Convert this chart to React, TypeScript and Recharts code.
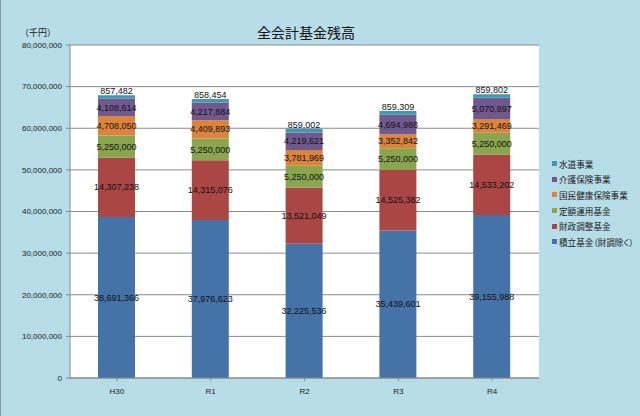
import React from 'react';
import {
  BarChart,
  Bar,
  XAxis,
  YAxis,
  CartesianGrid,
  Legend,
  LabelList
} from 'recharts';

// 年度
const categories = ['H30', 'R1', 'R2', 'R3', 'R4'];

// 系列（下から順）
const seriesNames = [
  '積立基金（財調除く）',
  '財政調整基金',
  '定額運用基金',
  '国民健康保険事業',
  '介護保険事業',
  '水道事業'
];
const seriesColors = ['#4572a7', '#aa4643', '#89a54e', '#db843d', '#71588f', '#4198af'];

const tsumitate = [38691366, 37976623, 32225536, 35439601, 39155988];
const zaisei = [14307238, 14315076, 13521049, 14525382, 14533202];
const teigaku = [5250000, 5250000, 5250000, 5250000, 5250000];
const kokuho = [4708050, 4409893, 3781969, 3352842, 3291469];
const kaigo = [4108614, 4217884, 4219621, 4694988, 5070897];
const suido = [857482, 858454, 859002, 859309, 859802];

const yTicks = [0, 10000000, 20000000, 30000000, 40000000, 50000000, 60000000, 70000000, 80000000];

const seriesValues = [tsumitate, zaisei, teigaku, kokuho, kaigo, suido];

const data = categories.map((name, i) => {
  const row: Record<string, string | number> = { name };
  seriesValues.forEach((vals, s) => {
    row[`s${s}`] = vals[i];
  });
  return row;
});

const fmt = (v: number) => v.toLocaleString('en-US');

const renderLegend = () => (
  <div
    style={{
      fontFamily: '"Noto Sans CJK JP", sans-serif',
      fontSize: 8.6,
      color: '#222',
      fontFeatureSettings: '"palt"'
    }}
  >
    {seriesNames
      .map((n, i) => ({ n, c: seriesColors[i] }))
      .reverse()
      .map((item) => (
        <div
          key={item.n}
          style={{ display: 'flex', alignItems: 'center', height: 15.6, whiteSpace: 'nowrap' }}
        >
          <span
            style={{ width: 5, height: 5, background: item.c, display: 'inline-block', marginRight: 2 }}
          />
          <span>{item.n}</span>
        </div>
      ))}
  </div>
);

const labelStyle = {
  fontSize: 9,
  fill: '#111',
  fontFamily: '"Liberation Sans", sans-serif'
};

const App: React.FC = () => {
  return (
    <div
      style={{
        position: 'absolute',
        left: 0,
        top: 0,
        width: 640,
        height: 416,
        background: '#b7dde8',
        borderLeft: '1px solid #8a9ca3',
        boxSizing: 'border-box',
        fontFamily: '"Liberation Sans", sans-serif'
      }}
    >
      <div
        style={{
          position: 'absolute',
          left: 205,
          width: 200,
          top: 22,
          textAlign: 'center',
          fontFamily: '"Noto Sans CJK JP", sans-serif',
          fontSize: 14,
          color: '#111'
        }}
      >
        全会計基金残高
      </div>
      <div
        style={{
          position: 'absolute',
          left: 19,
          top: 26,
          fontFamily: '"Noto Sans CJK JP", sans-serif',
          fontSize: 9,
          color: '#222'
        }}
      >
        （千円）
      </div>
      <div style={{ position: 'absolute', left: -1, top: 0 }}>
        <BarChart
          width={640}
          height={416}
          data={data}
          margin={{ top: 45, right: 101, left: 0, bottom: 0 }}
        >
          <CartesianGrid vertical={false} stroke="#8a8a8a" strokeWidth={1} fill="#ffffff" />
          <XAxis
            dataKey="name"
            height={38}
            tickLine={{ stroke: '#8a8a8a' }}
            axisLine={{ stroke: '#8a8a8a' }}
            tickSize={3}
            tick={{ fontSize: 8, fill: '#222' }}
            tickMargin={7}
            interval={0}
          />
          <YAxis
            width={70}
            domain={[0, 80000000]}
            ticks={yTicks}
            tickFormatter={fmt}
            tickLine={{ stroke: '#8a8a8a' }}
            axisLine={{ stroke: '#8a8a8a' }}
            tickSize={4}
            tickMargin={4}
            tick={{ fontSize: 8, fill: '#222' }}
            interval={0}
          />
          <Legend
            layout="vertical"
            align="center"
            verticalAlign="middle"
            content={renderLegend}
            wrapperStyle={{ left: 552, top: 156, width: 100 }}
          />
          {seriesNames.map((n, s) => (
            <Bar
              key={n}
              dataKey={`s${s}`}
              name={n}
              stackId="a"
              fill={seriesColors[s]}
              barSize={37}
              isAnimationActive={false}
            >
              <LabelList
                dataKey={`s${s}`}
                position={s === seriesNames.length - 1 ? 'top' : 'center'}
                offset={1}
                formatter={(v: any) => fmt(Number(v))}
                style={labelStyle}
              />
            </Bar>
          ))}
        </BarChart>
      </div>
    </div>
  );
};

export default App;
